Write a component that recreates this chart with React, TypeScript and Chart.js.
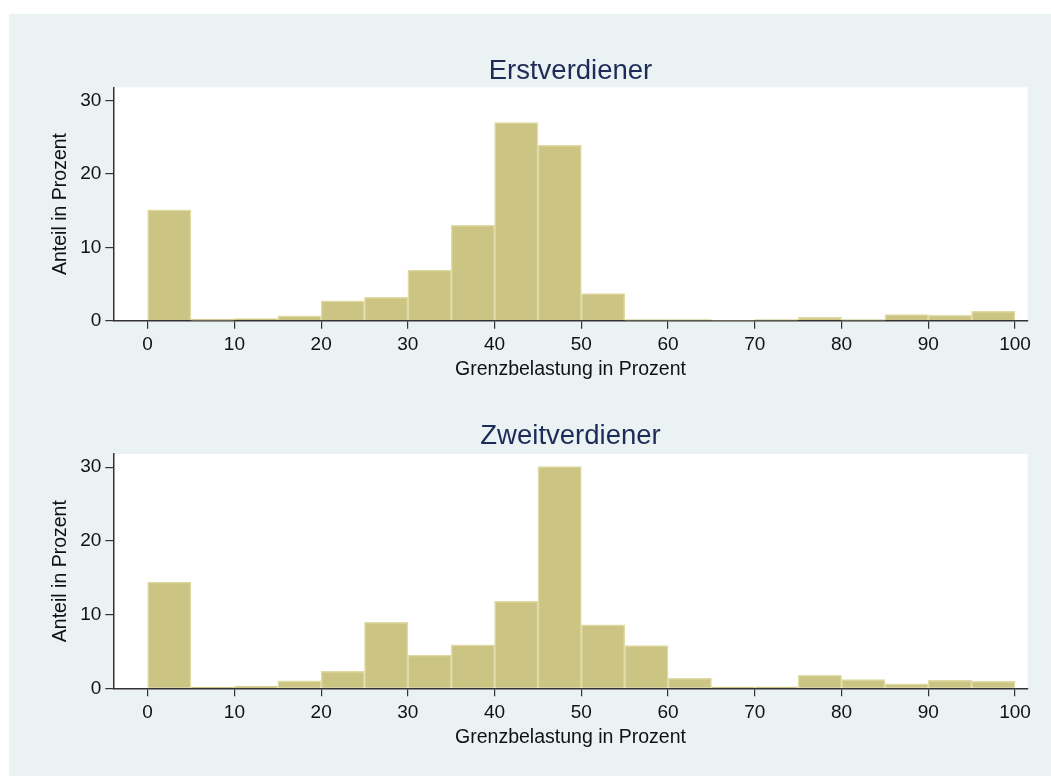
import React, { useEffect, useRef } from "react";
import { Chart, registerables } from "chart.js";

Chart.register(...registerables);

// ---- data ----
const binStarts = [0, 5, 10, 15, 20, 25, 30, 35, 40, 45, 50, 55, 60, 65, 70, 75, 80, 85, 90, 95];
const binWidth = 5;
const erstverdiener = [15.1, 0.2, 0.28, 0.68, 2.7, 3.2, 6.9, 13.0, 27.0, 23.9, 3.7, 0.15, 0.15, 0.08, 0.15, 0.46, 0.15, 0.82, 0.73, 1.28];
const zweitverdiener = [14.4, 0.15, 0.3, 1.0, 2.3, 8.95, 4.5, 5.9, 11.8, 30.1, 8.6, 5.8, 1.35, 0.2, 0.2, 1.76, 1.17, 0.62, 1.08, 0.95];
const xTickValues = [0, 10, 20, 30, 40, 50, 60, 70, 80, 90, 100];
const yTickValues = [0, 10, 20, 30];
const titles = ["Erstverdiener", "Zweitverdiener"];
const xAxisTitle = "Grenzbelastung in Prozent";
const yAxisTitle = "Anteil in Prozent";

const FONT = '"Liberation Sans", Arial, Helvetica, sans-serif';
const BG = "#eaf2f3";
const BAR = "#cbc482";
const BAR_EDGE = "#e0daa4";
const AXIS = "#333333";

const plotBg = {
  id: "plotBg",
  beforeDraw(chart: any) {
    const { ctx, chartArea } = chart;
    if (!chartArea) return;
    ctx.save();
    ctx.fillStyle = "#ffffff";
    ctx.fillRect(chartArea.left, chartArea.top, chartArea.right - chartArea.left, chartArea.bottom - chartArea.top);
    ctx.restore();
  },
};

type PanelProps = {
  values: number[];
  title: string;
  top: number;
  height: number;
  chartTop: number;
  chartBottom: number;
  titleMid: number;
};

const CANVAS_LEFT = 9;
const CANVAS_W = 1042;
const CHART_LEFT = 104.3;
const CHART_RIGHT = 1018.7;

function Panel({ values, title, top, height, chartTop, chartBottom, titleMid }: PanelProps) {
  const ref = useRef<HTMLCanvasElement | null>(null);
  useEffect(() => {
    if (!ref.current) return;
    const titleLH = 27.5 * 1.2;
    const xH = height - chartBottom;
    const chart = new Chart(ref.current, {
      type: "bar",
      data: {
        datasets: [
          {
            data: binStarts.map((b, i) => ({ x: b + binWidth / 2, y: values[i] })),
            backgroundColor: BAR,
            borderColor: BAR_EDGE,
            borderWidth: 1.5,
            borderSkipped: "start",
            barPercentage: 1,
            categoryPercentage: 1,
          },
        ],
      },
      options: {
        animation: false,
        responsive: false,
        events: [],
        layout: { padding: { left: 0, top: 0, bottom: 0, right: CANVAS_W - CHART_RIGHT } },
        plugins: {
          legend: { display: false },
          tooltip: { enabled: false },
          title: {
            display: true,
            text: title,
            fullSize: false,
            color: "#1c2b57",
            font: { family: FONT, size: 27.5, weight: "normal", lineHeight: 1.2 },
            padding: { top: titleMid - titleLH / 2, bottom: chartTop - titleMid - titleLH / 2 },
          },
        },
        scales: {
          x: {
            type: "linear",
            min: -3.96,
            max: 101.46,
            offset: false,
            grid: { drawOnChartArea: false, offset: false, color: AXIS, lineWidth: 1.2, tickLength: 8 },
            border: { display: true, color: AXIS, width: 1.5 },
            ticks: {
              color: "#111",
              font: { family: FONT, size: 19 },
              padding: 4.7,
              maxRotation: 0,
              autoSkip: false,
            },
            afterBuildTicks: (s: any) => {
              s.ticks = xTickValues.map((v) => ({ value: v }));
            },
            afterFit: (s: any) => {
              s.height = xH;
            },
            title: {
              display: true,
              text: xAxisTitle,
              color: "#111",
              font: { family: FONT, size: 19.5, lineHeight: 1.2 },
              padding: { top: 0, bottom: xH - 61 },
            },
          },
          y: {
            type: "linear",
            min: 0,
            max: 31.8,
            grid: { drawOnChartArea: false, color: AXIS, lineWidth: 1.2, tickLength: 8 },
            border: { display: true, color: AXIS, width: 1.5 },
            ticks: {
              color: "#111",
              font: { family: FONT, size: 19 },
              padding: 4,
              autoSkip: false,
            },
            afterBuildTicks: (s: any) => {
              s.ticks = yTickValues.map((v) => ({ value: v }));
            },
            afterFit: (s: any) => {
              s.width = CHART_LEFT;
            },
            title: {
              display: true,
              text: yAxisTitle,
              color: "#111",
              font: { family: FONT, size: 19.5, lineHeight: 1.2 },
              padding: { top: 40, bottom: 0 },
            },
          },
        },
      },
      plugins: [plotBg],
    } as any);
    return () => chart.destroy();
  }, [values, title, top, height, chartTop, chartBottom, titleMid]);

  return (
    <canvas
      ref={ref}
      width={CANVAS_W}
      height={height}
      style={{ position: "absolute", left: CANVAS_LEFT, top, width: CANVAS_W, height }}
    />
  );
}

export default function App() {
  return (
    <div style={{ position: "absolute", left: 0, top: 0, width: 1051, height: 776, background: "#ffffff", overflow: "hidden" }}>
      <div style={{ position: "absolute", left: 9, top: 14, width: 1042, height: 762, background: BG }} />
      <Panel values={erstverdiener} title={titles[0]} top={14} height={376} chartTop={73.3} chartBottom={306.7} titleMid={57} />
      <Panel values={zweitverdiener} title={titles[1]} top={390} height={386} chartTop={64} chartBottom={298.3} titleMid={46.3} />
    </div>
  );
}
